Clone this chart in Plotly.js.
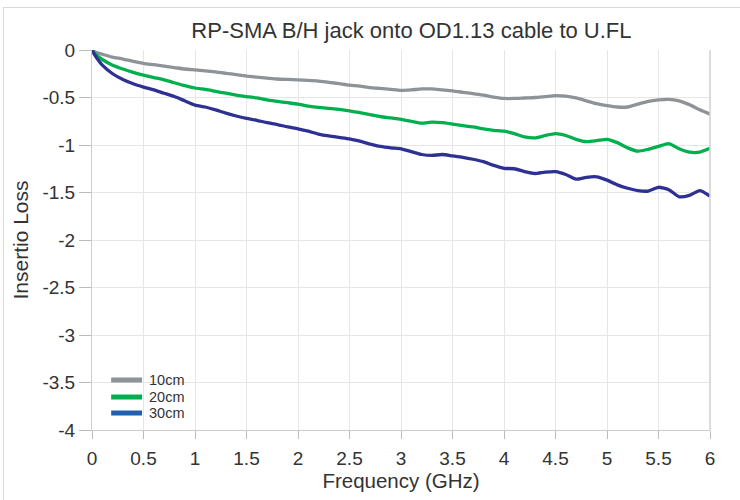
<!DOCTYPE html>
<html>
<head>
<meta charset="utf-8">
<script src="https://cdn.plot.ly/plotly-3.0.1.min.js"></script>
<style>
html,body{margin:0;padding:0;background:#fff;}
#frame{position:absolute;left:3px;top:7px;width:760px;height:520px;border:1px solid #d9d9d9;box-sizing:border-box;}
#chart{position:absolute;left:0;top:0;width:740px;height:500px;}
</style>
</head>
<body>
<div id="frame"></div>
<div id="chart"></div>
<script>
const freq = [0,0.02,0.05,0.1,0.2,0.3,0.4,0.5,0.6,0.7,0.8,0.9,1.0,1.1,1.2,1.3,1.4,1.5,1.6,1.7,1.8,1.9,2.0,2.1,2.2,2.3,2.4,2.5,2.6,2.7,2.8,2.9,3.0,3.1,3.2,3.3,3.4,3.5,3.6,3.7,3.8,3.9,4.0,4.1,4.2,4.3,4.4,4.5,4.6,4.7,4.8,4.9,5.0,5.1,5.2,5.3,5.4,5.5,5.6,5.7,5.8,5.9,6.0];
const loss10 = [0,-0.015,-0.03,-0.045,-0.075,-0.095,-0.12,-0.14,-0.155,-0.17,-0.185,-0.2,-0.21,-0.22,-0.23,-0.245,-0.26,-0.275,-0.285,-0.295,-0.305,-0.31,-0.315,-0.32,-0.327,-0.34,-0.355,-0.37,-0.38,-0.395,-0.405,-0.415,-0.425,-0.42,-0.41,-0.41,-0.42,-0.43,-0.445,-0.46,-0.475,-0.495,-0.51,-0.51,-0.505,-0.5,-0.49,-0.48,-0.485,-0.505,-0.535,-0.565,-0.585,-0.6,-0.6,-0.57,-0.54,-0.525,-0.52,-0.535,-0.575,-0.63,-0.675];
const loss20 = [0,-0.025,-0.06,-0.1,-0.16,-0.2,-0.235,-0.265,-0.29,-0.315,-0.345,-0.375,-0.4,-0.415,-0.435,-0.455,-0.475,-0.49,-0.505,-0.525,-0.54,-0.555,-0.57,-0.59,-0.605,-0.615,-0.625,-0.64,-0.66,-0.68,-0.7,-0.715,-0.73,-0.75,-0.77,-0.76,-0.765,-0.78,-0.795,-0.81,-0.83,-0.845,-0.855,-0.88,-0.915,-0.925,-0.9,-0.88,-0.9,-0.94,-0.965,-0.955,-0.94,-0.975,-1.03,-1.065,-1.045,-1.015,-0.985,-1.04,-1.075,-1.075,-1.035];
const loss30 = [0,-0.04,-0.09,-0.16,-0.25,-0.31,-0.355,-0.39,-0.42,-0.455,-0.49,-0.535,-0.58,-0.6,-0.63,-0.665,-0.695,-0.72,-0.74,-0.765,-0.785,-0.81,-0.83,-0.855,-0.885,-0.905,-0.92,-0.935,-0.96,-0.99,-1.015,-1.03,-1.04,-1.07,-1.1,-1.11,-1.1,-1.115,-1.13,-1.15,-1.175,-1.215,-1.245,-1.25,-1.28,-1.3,-1.285,-1.28,-1.31,-1.36,-1.34,-1.335,-1.37,-1.42,-1.455,-1.48,-1.485,-1.445,-1.47,-1.545,-1.53,-1.48,-1.537];
const seriesNames = ['10cm','20cm','30cm'];
const lineColors = ['#8e9398','#00b04f','#2e3192'];
const legendColors = ['#8e9398','#00b04f','#1f5fae'];
const xTicks = [0,0.5,1,1.5,2,2.5,3,3.5,4,4.5,5,5.5,6];
const yTicks = [0,-0.5,-1,-1.5,-2,-2.5,-3,-3.5,-4];

const dataSets = [loss10, loss20, loss30];
const traces = dataSets.map((d,i)=>({x:freq,y:d,type:'scatter',mode:'lines',name:seriesNames[i],
    line:{color:lineColors[i],width:3.3,shape:'spline',smoothing:0.6}}));

// legend drawn as paper-positioned keys (bottom-left inside plot)
const legRows = [0.1316,0.0868,0.0447];
const shapes = [{type:'line',xref:'paper',yref:'paper',x0:1,x1:1,y0:0,y1:1,line:{color:'#d0d0d0',width:1.5}}];
const annotations = [];
seriesNames.forEach((n,i)=>{
  shapes.push({type:'line',xref:'paper',yref:'paper',x0:0.031,x1:0.081,y0:legRows[i],y1:legRows[i],line:{color:legendColors[i],width:5}});
  annotations.push({xref:'paper',yref:'paper',x:0.0895,y:legRows[i],xanchor:'left',yanchor:'middle',text:n,showarrow:false,font:{size:14.5,color:'#333'}});
});

const font = 'Liberation Sans, Arial, sans-serif';
const layout = {
  width:740,height:500,
  margin:{l:92,r:30,t:50,b:70},
  paper_bgcolor:'rgba(0,0,0,0)',plot_bgcolor:'#fff',
  font:{family:font,color:'#333',size:19},
  showlegend:false,
  title:{text:'RP-SMA B/H jack onto OD1.13 cable to U.FL',font:{family:font,size:22,color:'#333'},x:0.556,xanchor:'center',y:0.94,yanchor:'middle'},
  xaxis:{range:[0,6],tickvals:xTicks,ticktext:xTicks.map(String),ticks:'outside',ticklen:8,tickcolor:'#bbb',
    ticklabelstandoff:3,
    showgrid:true,gridcolor:'#e6e6e6',zeroline:false,showline:true,linecolor:'#ccc',mirror:false,
    tickfont:{size:19,color:'#333'},
    title:{text:'Frequency (GHz)',font:{size:20.5,color:'#333'},standoff:0}},
  yaxis:{range:[-4,0],tickvals:yTicks,ticktext:yTicks.map(String),ticks:'outside',ticklen:12,tickcolor:'#bbb',
    showgrid:true,gridcolor:'#e6e6e6',zeroline:false,showline:true,linecolor:'#ccc',
    tickfont:{size:19,color:'#333'},
    title:{text:'Insertio Loss',font:{size:21,color:'#333'},standoff:8}},
  shapes:shapes,
  annotations:annotations
};
Plotly.newPlot('chart',traces,layout,{displayModeBar:false,staticPlot:true});
</script>
</body>
</html>
